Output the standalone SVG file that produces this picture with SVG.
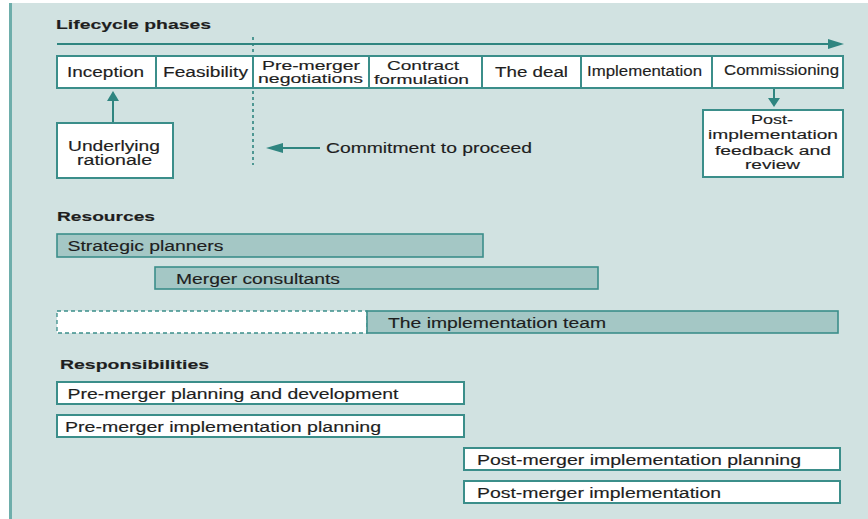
<svg xmlns="http://www.w3.org/2000/svg" width="868" height="519" viewBox="0 0 868 519">
<style>
text{font-family:"Liberation Sans",Arial,sans-serif;fill:#1e1e1e;font-size:14px;stroke:#1e1e1e;stroke-width:0.15}
.h{font-weight:bold;font-size:13.5px}
.m{font-size:12.5px}
.box{fill:#ffffff;stroke:#3b8e8a;stroke-width:2}
.bar{fill:#a4c7c5;stroke:#3b8e8a;stroke-width:1.6}
.ln{stroke:#2f8580;stroke-width:2;fill:none}
.ah{fill:#2f8580}
</style>
<rect x="0" y="0" width="868" height="519" fill="#ffffff"/>
<rect x="9" y="3" width="859" height="516" fill="#d1e2e1"/>
<line x1="10.5" y1="3" x2="10.5" y2="519" stroke="#6eaeab" stroke-width="3"/>

<text class="h" x="56" y="29" textLength="155" lengthAdjust="spacingAndGlyphs">Lifecycle phases</text>
<text class="h" x="57" y="221" textLength="98" lengthAdjust="spacingAndGlyphs">Resources</text>
<text class="h" x="60" y="369" textLength="149" lengthAdjust="spacingAndGlyphs">Responsibilities</text>

<g id="connectors">
<line class="ln" x1="57" y1="44" x2="829" y2="44"/>
<path class="ah" d="M828,39 L844,44 L828,49 z"/>
<line x1="253" y1="37" x2="253" y2="165" stroke="#2f8580" stroke-width="1.6" stroke-dasharray="3,3"/>
<line class="ln" x1="113" y1="122" x2="113" y2="100"/>
<path class="ah" d="M107,101 L113,91 L119,101 z"/>
<line class="ln" x1="774" y1="88" x2="774" y2="99"/>
<path class="ah" d="M768,98 L774,107 L780,98 z"/>
<line class="ln" x1="320" y1="148" x2="282" y2="148"/>
<path class="ah" d="M283,143 L266,148 L283,153 z"/>
</g>

<g id="phases">
<g id="p-inception"><rect class="box" x="57" y="56" width="99" height="32"/><text x="67" y="76.5" textLength="77" lengthAdjust="spacingAndGlyphs">Inception</text></g>
<g id="p-feasibility"><rect class="box" x="156" y="56" width="97" height="32"/><text x="163" y="76.5" textLength="85" lengthAdjust="spacingAndGlyphs">Feasibility</text></g>
<g id="p-premerger"><rect class="box" x="253" y="56" width="116" height="32"/><text class="m" x="262" y="69.5" textLength="98" lengthAdjust="spacingAndGlyphs">Pre-merger</text><text class="m" x="258" y="83" textLength="105" lengthAdjust="spacingAndGlyphs">negotiations</text></g>
<g id="p-contract"><rect class="box" x="369" y="56" width="113" height="32"/><text class="m" x="387" y="70" textLength="72" lengthAdjust="spacingAndGlyphs">Contract</text><text class="m" x="374" y="83.5" textLength="95" lengthAdjust="spacingAndGlyphs">formulation</text></g>
<g id="p-deal"><rect class="box" x="482" y="56" width="99" height="32"/><text x="495" y="77" textLength="73" lengthAdjust="spacingAndGlyphs">The deal</text></g>
<g id="p-impl"><rect class="box" x="581" y="56" width="131" height="32"/><text x="587" y="76" font-size="13" textLength="115" lengthAdjust="spacingAndGlyphs">Implementation</text></g>
<g id="p-comm"><rect class="box" x="712" y="56" width="131" height="32"/><text x="724" y="75" textLength="115" lengthAdjust="spacingAndGlyphs">Commissioning</text></g>
</g>

<g id="n-rationale"><rect class="box" x="57" y="123" width="116" height="55"/><text x="68" y="150.5" textLength="92" lengthAdjust="spacingAndGlyphs">Underlying</text><text x="77" y="165" textLength="75" lengthAdjust="spacingAndGlyphs">rationale</text></g>

<g id="n-commit"><text x="326" y="153" textLength="206" lengthAdjust="spacingAndGlyphs">Commitment to proceed</text></g>

<g id="n-post"><rect class="box" x="703" y="110" width="140" height="67"/>
<text class="m" x="751" y="124" textLength="42" lengthAdjust="spacingAndGlyphs">Post-</text>
<text class="m" x="708" y="139" textLength="130" lengthAdjust="spacingAndGlyphs">implementation</text>
<text class="m" x="715" y="154.5" textLength="116" lengthAdjust="spacingAndGlyphs">feedback and</text>
<text class="m" x="745" y="168.5" textLength="55" lengthAdjust="spacingAndGlyphs">review</text></g>

<g id="r-strategic"><rect class="bar" x="57" y="234" width="426" height="23"/><text x="67.5" y="250.5" textLength="156" lengthAdjust="spacingAndGlyphs">Strategic planners</text></g>
<g id="r-consult"><rect class="bar" x="155" y="267" width="443" height="22"/><text x="176" y="283.5" textLength="164" lengthAdjust="spacingAndGlyphs">Merger consultants</text></g>
<g id="r-team"><rect x="57" y="311" width="310" height="22" fill="#ffffff" stroke="#3b8e8a" stroke-width="1.3" stroke-dasharray="4,3"/><rect class="bar" x="367" y="311" width="471" height="22"/><text x="388" y="327.5" textLength="218" lengthAdjust="spacingAndGlyphs">The implementation team</text></g>

<g id="s-1"><rect class="box" x="57" y="382" width="407" height="22"/><text x="67.5" y="399" textLength="331" lengthAdjust="spacingAndGlyphs">Pre-merger planning and development</text></g>
<g id="s-2"><rect class="box" x="57" y="415" width="407" height="22"/><text x="65" y="431.5" textLength="316" lengthAdjust="spacingAndGlyphs">Pre-merger implementation planning</text></g>
<g id="s-3"><rect class="box" x="464" y="448" width="376" height="22"/><text x="477" y="464.5" textLength="324" lengthAdjust="spacingAndGlyphs">Post-merger implementation planning</text></g>
<g id="s-4"><rect class="box" x="464" y="481" width="376" height="22"/><text x="477" y="497.5" textLength="244" lengthAdjust="spacingAndGlyphs">Post-merger implementation</text></g>
</svg>
